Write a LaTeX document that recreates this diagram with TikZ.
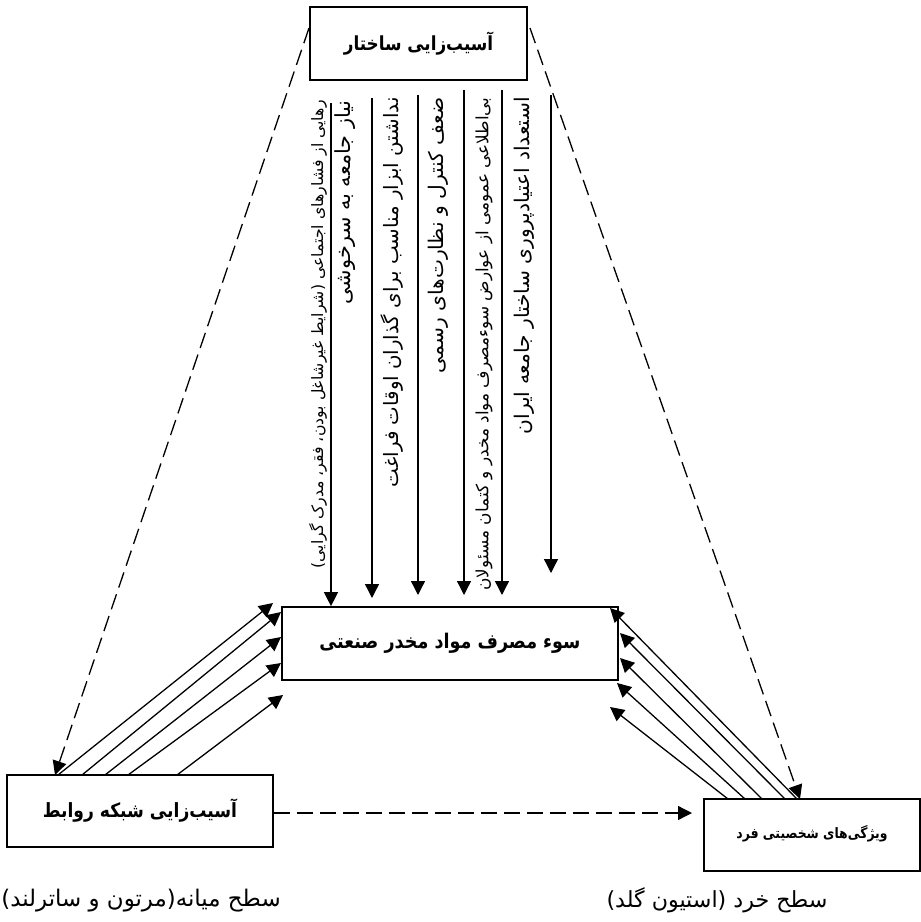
\documentclass[tikz,border=0pt]{standalone}
\usepackage{fontspec}
\usepackage{graphicx}
\usetikzlibrary{arrows.meta}
\TeXXeTstate=1
\newfontfamily\arabicfont[Script=Arabic]{DejaVu Sans}
\newcommand{\fs}[1]{\fontsize{#1}{#1}\selectfont}
\begin{document}
\begin{tikzpicture}[x=0.5pt,y=-0.5pt,
  box/.style={draw, line width=0.85pt, inner sep=0pt, align=center},
  coltext/.style={rotate=90, anchor=east, inner sep=0pt},
  lvl/.style={inner sep=0pt},
  arr/.style={line width=0.65pt, -{Triangle[length=7pt,width=7pt]}},
  darr/.style={line width=0.65pt, dash pattern=on 8pt off 3.5pt, -{Triangle[length=7pt,width=7pt]}}]
\useasboundingbox (0,0) rectangle (921,922);
% boxes
\node[box, minimum width=108.5pt, minimum height=36.5pt, font=\arabicfont\bfseries\fs{9.7}] (T) at (418.5,43.5) {\scalebox{0.866}[1]{\arabicfont\beginR آسیب‌زایی ساختار\endR}};
\node[box, minimum width=168pt, minimum height=36.5pt, font=\arabicfont\bfseries\fs{10.1}] (C) at (450,643.5) {\scalebox{0.87}[1]{\arabicfont\beginR سوء مصرف مواد مخدر صنعتی\endR}};
\node[box, minimum width=133pt, minimum height=36pt, font=\arabicfont\bfseries\fs{9.8}] (L) at (140,811) {\scalebox{0.872}[1]{\arabicfont\beginR آسیب‌زایی شبکه روابط\endR}};
\node[box, minimum width=108pt, minimum height=36pt, font=\arabicfont\bfseries\fs{7.2}] (R) at (812,835) {\raisebox{3pt}{\scalebox{0.86}[1]{\arabicfont\beginR ویژگی‌های شخصیتی فرد\endR}}};
% level labels
\node[lvl, font=\arabicfont\fs{11.45}] (lvL) at (141,901) {\arabicfont\beginR سطح میانه(مرتون و ساترلند)\endR};
\node[lvl, font=\arabicfont\fs{11.1}] (lvR) at (717,900) {\arabicfont\beginR سطح خرد (استیون گلد)\endR};
% column texts
\node[coltext, font=\arabicfont\fs{7.85}] (t1) at (318,100) {\arabicfont\beginR رهایی از فشارهای اجتماعی (شرایط غیرشاغل بودن، فقر، مدرک گرایی)\endR};
\node[coltext, font=\arabicfont\fs{10.4}] (t2) at (345,100) {\arabicfont\beginR نیاز جامعه به سرخوشی\endR};
\node[coltext, font=\arabicfont\fs{9.9}] (t3) at (392,97) {\arabicfont\beginR نداشتن ابزار مناسب برای گذاران اوقات فراغت\endR};
\node[coltext, font=\arabicfont\fs{10.1}] (t4) at (438,97) {\arabicfont\beginR ضعف کنترل و نظارت‌های رسمی\endR};
\node[coltext, font=\arabicfont\fs{8.45}] (t5) at (484,97) {\arabicfont\beginR بی‌اطلاعی عمومی از عوارض سوء‌مصرف مواد مخدر و کتمان مسئولان\endR};
\node[coltext, font=\arabicfont\fs{10.1}] (t6) at (524,97) {\arabicfont\beginR استعداد اعتیادپروری ساختار جامعه ایران\endR};
% vertical arrows
\coordinate (v1) at (331,103);
\coordinate (v2) at (372,98);
\coordinate (v3) at (418,95);
\coordinate (v4) at (464,90);
\coordinate (v5) at (502,90);
\coordinate (v6) at (551,95);
\coordinate (e2) at (372,598);
\coordinate (e3) at (418,595);
\coordinate (e4) at (464,595);
\coordinate (e5) at (502,595);
\coordinate (e6) at (551,573);
\draw[arr] (v1) -- (v1 |- C.north);
\draw[arr] (v2) -- (e2);
\draw[arr] (v3) -- (e3);
\draw[arr] (v4) -- (e4);
\draw[arr] (v5) -- (e5);
\draw[arr] (v6) -- (e6);
% left diagonal arrows
\coordinate (ls1) at (58,775);  \coordinate (le1) at (273,603);
\coordinate (ls2) at (82,775);  \coordinate (le2) at (281,612);
\coordinate (ls3) at (105,775); \coordinate (le3) at (281,637);
\coordinate (ls4) at (128,775); \coordinate (le4) at (281,663);
\coordinate (ls5) at (177,775); \coordinate (le5) at (283,695);
\foreach \i in {1,...,5} \draw[arr] (ls\i) -- (le\i);
% right diagonal arrows
\coordinate (rs1) at (797,799); \coordinate (re1) at (610,608);
\coordinate (rs2) at (785,799); \coordinate (re2) at (620,633);
\coordinate (rs3) at (762,799); \coordinate (re3) at (620,658);
\coordinate (rs4) at (745,799); \coordinate (re4) at (617,683);
\coordinate (rs5) at (728,799); \coordinate (re5) at (610,707);
\foreach \i in {1,...,5} \draw[arr] (rs\i) -- (re\i);
% dashed connectors
\coordinate (tl) at (309,28);
\coordinate (tr) at (530,28);
\coordinate (lt) at (55,775);
\coordinate (rt) at (800,799);
\coordinate (rl) at (692,813);
\draw[darr] (tl) -- (lt);
\draw[darr] (tr) -- (rt);
\draw[darr] (L.east |- rl) -- (rl);
\end{tikzpicture}
\end{document}
